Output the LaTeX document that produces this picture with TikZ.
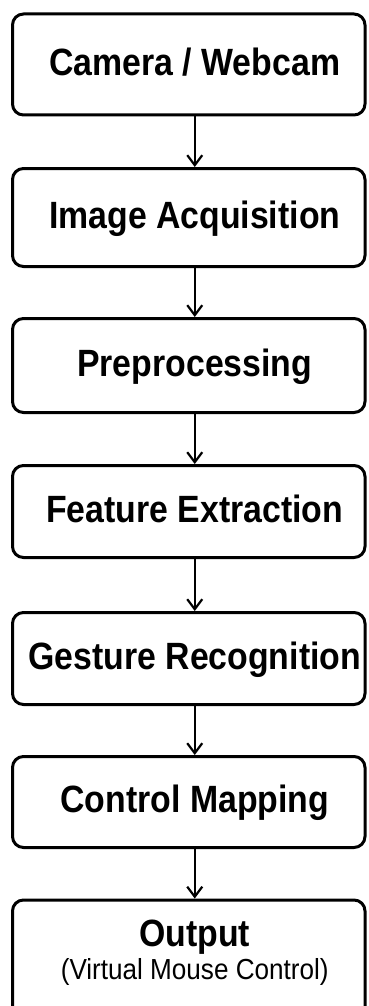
\documentclass[tikz,border=0pt]{standalone}
\usepackage{fontspec}
\setmainfont{Liberation Sans}
\newfontfamily\stagefamily{Liberation Sans}[FakeStretch=0.89]
\newfontfamily\notefamily{Liberation Sans}[FakeStretch=0.9]
\usetikzlibrary{arrows.meta}
\newcommand\stagefont{\stagefamily\fontsize{38}{44}\selectfont\bfseries}
\newcommand\notefont{\notefamily\fontsize{29}{33}\selectfont\mdseries}
\begin{document}
\begin{tikzpicture}[x=1pt,y=-1pt,
  stagebase/.style={draw=black, line width=3pt, rounded corners=11pt, fill=white,
    minimum width=352.5pt, inner sep=0pt, font=\stagefont},
  stagebox/.style={stagebase, text height=29pt, text depth=7.8pt,
    execute at begin node={\hspace*{12pt}}},
  flow/.style={draw=black, line width=2.2pt, -{Straight Barb[length=10pt,width=15pt]}}]
\useasboundingbox (0,0) rectangle (368,1006);
\node[stagebox, minimum height=101pt] (cam) at (188.75,64.5) {Camera / Webcam};
\node[stagebox, minimum height=98pt] (acq) at (188.75,217.5) {Image Acquisition};
\node[stagebox, minimum height=94pt] (pre) at (188.75,365.5) {Preprocessing};
\node[stagebox, minimum height=92pt] (fea) at (188.75,511.5) {Feature Extraction};
\node[stagebox, minimum height=92pt] (ges) at (188.75,658.5) {Gesture Recognition};
\node[stagebox, minimum height=91pt] (map) at (188.75,802) {Control Mapping};
\node[stagebase, minimum height=120pt] (out) at (188.75,960)
  {\hspace*{12pt}\raisebox{0pt}[58pt][20pt]{\notefont\begin{tabular}[b]{@{}c@{}}{\stagefont Output}\\(Virtual Mouse Control)\end{tabular}}};
\draw[flow] ([xshift=6pt]cam.south) -- ([xshift=6pt]acq.north);
\draw[flow] ([xshift=6pt]acq.south) -- ([xshift=6pt]pre.north);
\draw[flow] ([xshift=6pt]pre.south) -- ([xshift=6pt]fea.north);
\draw[flow] ([xshift=6pt]fea.south) -- ([xshift=6pt]ges.north);
\draw[flow] ([xshift=6pt]ges.south) -- ([xshift=6pt]map.north);
\draw[flow] ([xshift=6pt]map.south) -- ([xshift=6pt]out.north);
\end{tikzpicture}
\end{document}
